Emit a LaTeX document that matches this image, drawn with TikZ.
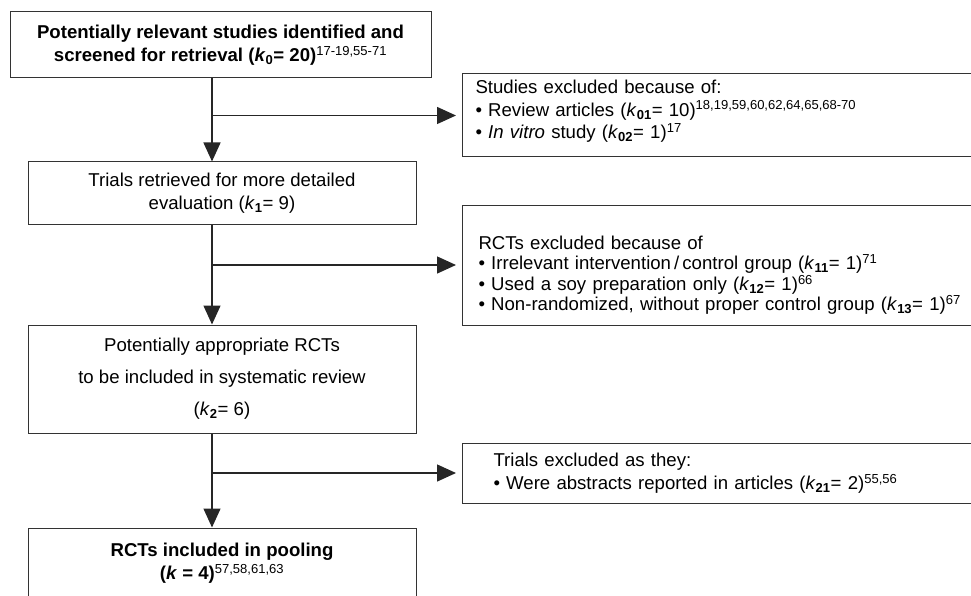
\documentclass[tikz,border=0pt]{standalone}
\usepackage{fontspec}
\setmainfont{Liberation Sans}
\usetikzlibrary{arrows.meta}

\begin{document}
\begin{tikzpicture}[x=1pt,y=-1pt,
    box/.style={draw=black!80, line width=1pt, inner sep=0pt, align=center,
      font=\fontsize{18.6}{23}\selectfont},
    sidebox/.style={box, align=left, anchor=west, minimum width=528pt,
      inner xsep=13pt, text width=502pt},
    link/.style={draw=black!85, line width=1.4pt,
      -{Triangle[length=19pt,width=17pt]}}]
    \useasboundingbox (0,0) rectangle (971,596);

    % draw main boxes
    \node[box, minimum width=421pt, minimum height=66pt] (start) at (220.5,45)
      {\textbf{Potentially relevant studies identified and}\\
       \textbf{screened for retrieval (\textit{k}\textsubscript{0}= 20)}\textsuperscript{17-19,55-71}};
    \node[box, minimum width=388pt, minimum height=62pt] (retrieved) at (222,193)
      {Trials retrieved for more detailed\\
       evaluation (\textit{k}\textsubscript{\textbf{1}}= 9)};
    \node[box, minimum width=388pt, minimum height=108pt] (appropriate) at (222,379)
      {Potentially appropriate RCTs\\[9pt]
       to be included in systematic review\\[9pt]
       (\textit{k}\textsubscript{\textbf{2}}= 6)};
    \node[box, minimum width=388pt, minimum height=70pt] (pooled) at (222,563)
      {\textbf{RCTs included in pooling}\\
       \textbf{(\textit{k} = 4)}\textsuperscript{57,58,61,63}};

    % draw exclusion boxes
    \node[sidebox, minimum height=83pt] (studiesout) at (462,115.5)
      {Studies excluded because of:\\[-0.5pt]
       \textbullet\ Review articles (\textit{k}\textsubscript{\textbf{01}}= 10)\textsuperscript{18,19,59,60,62,64,65,68-70}\\[-0.5pt]
       \textbullet\ \textit{In vitro} study (\textit{k}\textsubscript{\textbf{02}}= 1)\textsuperscript{17}\rule[-12pt]{0pt}{0pt}};
    \node[sidebox, minimum height=120pt, inner xsep=16pt, text width=496pt,
      font=\fontsize{18.6}{20.5}\selectfont] (rctsout) at (462,265)
      {\rule{0pt}{34pt}RCTs excluded because of\\
       \textbullet\ Irrelevant intervention\,/\,control group (\textit{k}\textsubscript{\textbf{11}}= 1)\textsuperscript{71}\\
       \textbullet\ Used a soy preparation only (\textit{k}\textsubscript{\textbf{12}}= 1)\textsuperscript{66}\\
       \textbullet\ Non-randomized, without proper control group (\textit{k}\textsubscript{\textbf{13}}= 1)\textsuperscript{67}};
    \node[sidebox, minimum height=60pt, inner xsep=31pt, text width=466pt] (trialsout) at (462,473)
      {Trials excluded as they:\\
       \textbullet\ Were abstracts reported in articles (\textit{k}\textsubscript{\textbf{21}}= 2)\textsuperscript{55,56}};

    \coordinate (spine) at (212,0);

    % draw arrows down the main column
    \foreach \a/\b in {start/retrieved, retrieved/appropriate, appropriate/pooled}
      \draw[link] (\a.south -| spine) -- (\b.north -| spine);

    % draw arrows to the exclusion boxes
    \foreach \s in {studiesout, rctsout, trialsout}
      \draw[link, shorten >=6pt] (\s.west -| spine) -- (\s.west);

  \end{tikzpicture}
\end{document}
